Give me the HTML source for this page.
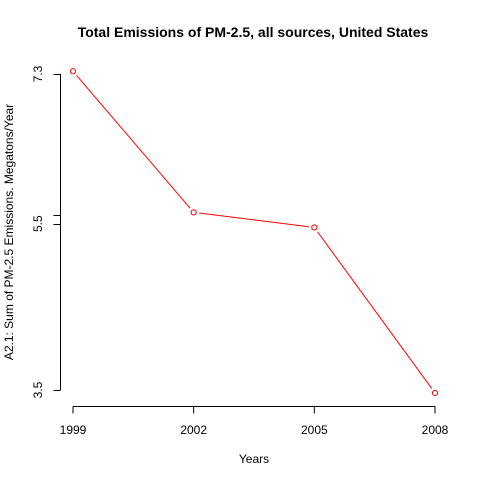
<!DOCTYPE html>
<html><head><meta charset="utf-8"><style>
body{margin:0;background:#fff;}
text{font-family:"Liberation Sans",Arial,sans-serif;}
</style></head><body>
<svg id="chart" width="480" height="480" xmlns="http://www.w3.org/2000/svg">
<rect width="480" height="480" fill="#fff"/>
<text x="253" y="37" text-anchor="middle" font-size="14" font-weight="bold">Total Emissions of PM-2.5, all sources, United States</text>
<text x="254" y="463" text-anchor="middle" font-size="12">Years</text>
<text transform="translate(13,232) rotate(-90)" text-anchor="middle" font-size="12">A2.1: Sum of PM-2.5 Emissions. Megatons/Year</text>
<g id="axes"></g>
<g id="series"></g>
</svg>
<script>
const years = [1999, 2002, 2005, 2008];
const emissions = [7.333, 5.636, 5.455, 3.464];
const yTicks = [7.3, 5.6, 5.5, 3.5];
const yTickLabels = ["7.3", "", "5.5", "3.5"];
const NS = "http://www.w3.org/2000/svg";
function xs(v){ return 73 + (v - 1999) * (435 - 73) / 9; }
function ys(v){ return 74 + (7.3 - v) * (390 - 74) / 3.8; }
function mk(tag, attrs, parent){ const e = document.createElementNS(NS, tag); for (const k in attrs) e.setAttribute(k, attrs[k]); parent.appendChild(e); return e; }
const axes = document.getElementById('axes');
const series = document.getElementById('series');
// x axis
let xl = mk('line', {x1: xs(years[0]), x2: xs(years[years.length-1]), y1: 406.5, y2: 406.5, stroke: '#000'}, axes);


years.forEach(y => {
  const t = mk('line', {x1: xs(y), x2: xs(y), y1: 406.5, y2: 413.5, stroke: '#000'}, axes);
  
  
  const l = mk('text', {x: xs(y), y: 434, 'text-anchor': 'middle', 'font-size': 12}, axes);
  
  
  l.textContent = y;
});
// y axis
let yl = mk('line', {x1: 60.5, x2: 60.5, y1: ys(yTicks[0]), y2: ys(yTicks[yTicks.length-1]), stroke: '#000'}, axes);


yTicks.forEach((v, i) => {
  const yy = Math.round(ys(v)) + 0.5;
  const t = mk('line', {x1: 53.5, x2: 60.5, y1: yy, y2: yy, stroke: '#000'}, axes);
  
  
  if (yTickLabels[i]) {
    const l = mk('text', {transform: 'translate(42,' + ys(v) + ') rotate(-90)', 'text-anchor': 'middle', 'font-size': 12}, axes);
    
    
    l.textContent = yTickLabels[i];
  }
});
// line segments with gaps (type="b")
for (let i = 0; i < years.length - 1; i++) {
  const x1 = xs(years[i]), y1 = ys(emissions[i]), x2 = xs(years[i+1]), y2 = ys(emissions[i+1]);
  const d = Math.hypot(x2 - x1, y2 - y1), g = 5.5;
  const ux = (x2 - x1) / d, uy = (y2 - y1) / d;
  const s = mk('line', {x1: x1 + ux*g, y1: y1 + uy*g, x2: x2 - ux*g, y2: y2 - uy*g, stroke: '#ff0000', 'stroke-width': 1}, series);
  
  
}
years.forEach((y, i) => {
  const c = mk('circle', {cx: xs(y), cy: ys(emissions[i]), r: 2.6, fill: 'none', stroke: '#ff0000', 'stroke-width': 1}, series);
  
  
});
</script>
</body></html>
